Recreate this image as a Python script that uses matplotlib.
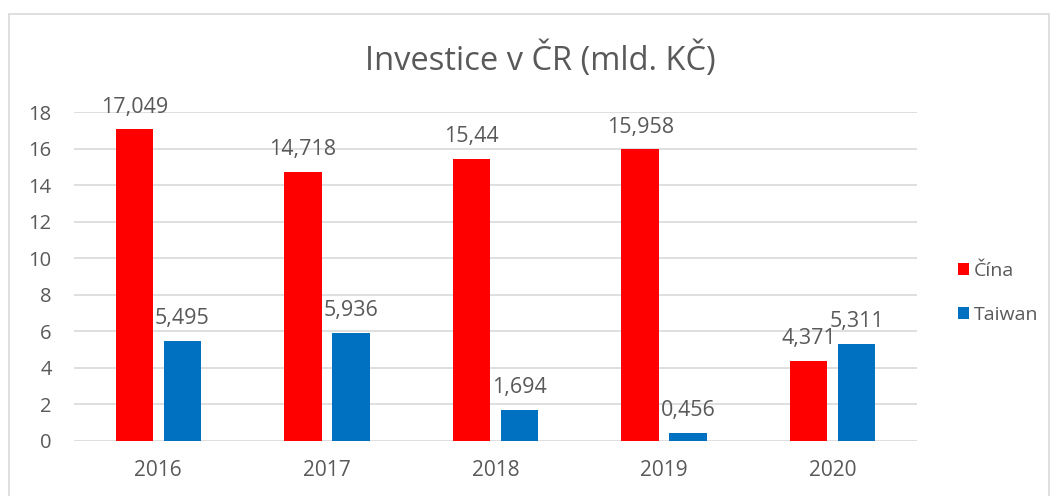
import matplotlib
matplotlib.use("Agg")
import matplotlib.pyplot as plt
from matplotlib.patches import Rectangle
import numpy as np

years = ["2016", "2017", "2018", "2019", "2020"]
cina = [17.049, 14.718, 15.44, 15.958, 4.371]
taiwan = [5.495, 5.936, 1.694, 0.456, 5.311]
series_names = ["Čína", "Taiwan"]
yticks = [0, 2, 4, 6, 8, 10, 12, 14, 16, 18]
title = "Investice v ČR (mld. KČ)"

TEXT = "#595959"
GRID = "#d9d9d9"
plt.rcParams['font.family'] = ['Open Sans', 'DejaVu Sans']

fig = plt.figure(figsize=(10.59, 4.96), dpi=100)
fig.patches.append(Rectangle((9/1059, -0.02), 1040/1059, 1 - 14/496 + 0.02,
                             transform=fig.transFigure, fill=False,
                             edgecolor=GRID, linewidth=1.2))
ax = fig.add_axes([74/1059, 1 - 441/496, (917-74)/1059, (441-112)/496])

x = np.arange(len(years))
w = 0.222
off = 0.142
b1 = ax.bar(x - off, cina, w, color="#FF0000", label=series_names[0], zorder=3)
b2 = ax.bar(x + off, taiwan, w, color="#0070C0", label=series_names[1], zorder=3)

for bars, vals in ((b1, cina), (b2, taiwan)):
    for r, v in zip(bars, vals):
        ax.annotate(f"{v:g}".replace('.', ','),
                    (r.get_x() + r.get_width()/2, v),
                    xytext=(0, 8.5), textcoords="offset points",
                    ha="center", va="bottom", fontsize=15.5, color=TEXT)

ax.set_xlim(-0.5, 4.5)
ax.set_ylim(0, 18)
ax.set_yticks(yticks)
ax.set_xticks(x)
ax.set_xticklabels(years)
ax.tick_params(axis='both', length=0, labelsize=14.5, colors=TEXT)
ax.tick_params(axis='x', pad=14, labelsize=15)
ax.tick_params(axis='y', pad=16)
ax.grid(axis='y', color=GRID, linewidth=1.2, zorder=0)
for s in ax.spines.values():
    s.set_visible(False)

fig.text(540/1059, 1 - 60/496, title, ha="center", va="center",
         fontsize=23.5, color=TEXT)

leg = fig.legend(handles=[b1, b2], labels=series_names,
                 loc="center left", bbox_to_anchor=(940/1059, 1 - 293/496),
                 frameon=False, fontsize=14, labelcolor=TEXT,
                 handlelength=0.6, handleheight=0.6, handletextpad=0.25,
                 labelspacing=1.35)

fig.savefig("out.png", dpi=100)
